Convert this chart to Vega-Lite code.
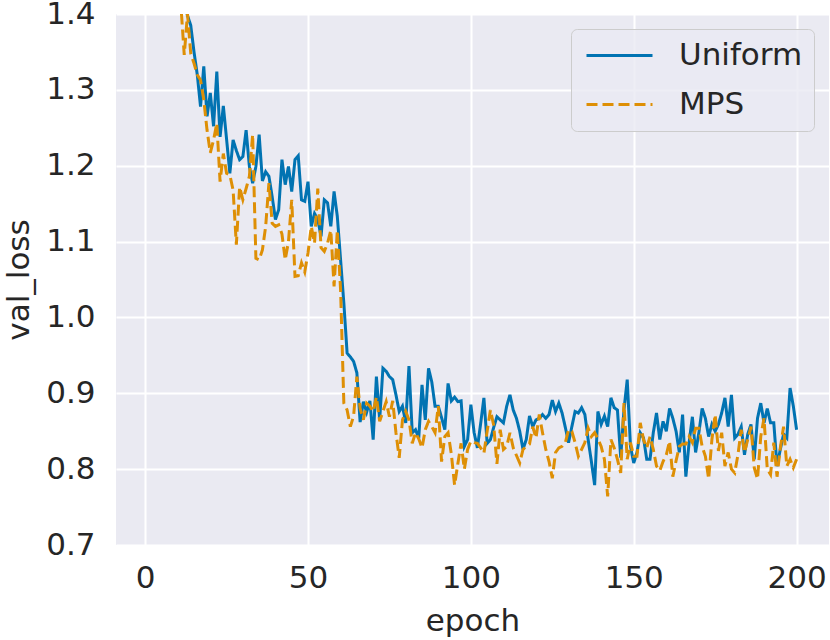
{
  "$schema": "https://vega.github.io/schema/vega-lite/v6.json",
  "width": 713,
  "height": 531,
  "autosize": {"type": "none"},
  "padding": {"left": 116, "top": 14, "right": 1, "bottom": 95},
  "background": "white",
  "config": {
    "font": "DejaVu Sans",
    "view": {"fill": "#EAEAF2", "stroke": null},
    "axis": {
      "domain": false,
      "ticks": false,
      "grid": true,
      "gridColor": "white",
      "gridWidth": 2,
      "labelFont": "DejaVu Sans",
      "labelFontSize": 31,
      "labelColor": "#262626",
      "titleFont": "DejaVu Sans",
      "titleFontSize": 31,
      "titleFontWeight": "normal",
      "titleColor": "#262626"
    },
    "legend": {
      "orient": "top-right",
      "offset": 15,
      "padding": 11,
      "fillColor": "rgba(234,234,242,0.8)",
      "strokeColor": "#cccccc",
      "cornerRadius": 6,
      "labelFont": "DejaVu Sans",
      "labelFontSize": 31,
      "labelColor": "#262626",
      "labelOffset": 66,
      "symbolType": "M-1,0H5",
      "symbolSize": 484,
      "symbolStrokeWidth": 3,
      "rowPadding": 17
    }
  },
  "data": {
    "values": [
      {"epoch": 1, "Uniform": 2.3, "MPS": 2.2},
      {"epoch": 2, "Uniform": 2.05, "MPS": 1.95},
      {"epoch": 3, "Uniform": 1.9, "MPS": 1.8},
      {"epoch": 4, "Uniform": 1.8, "MPS": 1.7},
      {"epoch": 5, "Uniform": 1.72, "MPS": 1.63},
      {"epoch": 6, "Uniform": 1.66, "MPS": 1.57},
      {"epoch": 7, "Uniform": 1.6, "MPS": 1.52},
      {"epoch": 8, "Uniform": 1.55, "MPS": 1.48},
      {"epoch": 9, "Uniform": 1.51, "MPS": 1.45},
      {"epoch": 10, "Uniform": 1.47, "MPS": 1.43},
      {"epoch": 11, "Uniform": 1.44, "MPS": 1.41},
      {"epoch": 12, "Uniform": 1.415, "MPS": 1.346},
      {"epoch": 13, "Uniform": 1.398, "MPS": 1.4},
      {"epoch": 14, "Uniform": 1.385, "MPS": 1.348},
      {"epoch": 15, "Uniform": 1.35, "MPS": 1.335},
      {"epoch": 16, "Uniform": 1.32, "MPS": 1.32},
      {"epoch": 17, "Uniform": 1.278, "MPS": 1.313},
      {"epoch": 18, "Uniform": 1.331, "MPS": 1.287},
      {"epoch": 19, "Uniform": 1.265, "MPS": 1.247},
      {"epoch": 20, "Uniform": 1.296, "MPS": 1.217},
      {"epoch": 21, "Uniform": 1.252, "MPS": 1.234},
      {"epoch": 22, "Uniform": 1.324, "MPS": 1.256},
      {"epoch": 23, "Uniform": 1.238, "MPS": 1.179},
      {"epoch": 24, "Uniform": 1.279, "MPS": 1.216},
      {"epoch": 25, "Uniform": 1.235, "MPS": 1.19},
      {"epoch": 26, "Uniform": 1.19, "MPS": 1.188},
      {"epoch": 27, "Uniform": 1.234, "MPS": 1.168},
      {"epoch": 28, "Uniform": 1.22, "MPS": 1.096},
      {"epoch": 29, "Uniform": 1.208, "MPS": 1.172},
      {"epoch": 30, "Uniform": 1.212, "MPS": 1.155},
      {"epoch": 31, "Uniform": 1.247, "MPS": 1.17},
      {"epoch": 32, "Uniform": 1.199, "MPS": 1.186},
      {"epoch": 33, "Uniform": 1.177, "MPS": 1.241},
      {"epoch": 34, "Uniform": 1.199, "MPS": 1.078},
      {"epoch": 35, "Uniform": 1.241, "MPS": 1.076},
      {"epoch": 36, "Uniform": 1.18, "MPS": 1.089},
      {"epoch": 37, "Uniform": 1.192, "MPS": 1.12},
      {"epoch": 38, "Uniform": 1.186, "MPS": 1.177},
      {"epoch": 39, "Uniform": 1.159, "MPS": 1.124},
      {"epoch": 40, "Uniform": 1.129, "MPS": 1.12},
      {"epoch": 41, "Uniform": 1.142, "MPS": 1.122},
      {"epoch": 42, "Uniform": 1.208, "MPS": 1.11},
      {"epoch": 43, "Uniform": 1.175, "MPS": 1.076},
      {"epoch": 44, "Uniform": 1.199, "MPS": 1.1},
      {"epoch": 45, "Uniform": 1.166, "MPS": 1.155},
      {"epoch": 46, "Uniform": 1.208, "MPS": 1.054},
      {"epoch": 47, "Uniform": 1.213, "MPS": 1.055},
      {"epoch": 48, "Uniform": 1.155, "MPS": 1.072},
      {"epoch": 49, "Uniform": 1.153, "MPS": 1.06},
      {"epoch": 50, "Uniform": 1.179, "MPS": 1.085},
      {"epoch": 51, "Uniform": 1.12, "MPS": 1.12},
      {"epoch": 52, "Uniform": 1.137, "MPS": 1.098},
      {"epoch": 53, "Uniform": 1.129, "MPS": 1.17},
      {"epoch": 54, "Uniform": 1.107, "MPS": 1.092},
      {"epoch": 55, "Uniform": 1.155, "MPS": 1.087},
      {"epoch": 56, "Uniform": 1.151, "MPS": 1.098},
      {"epoch": 57, "Uniform": 1.12, "MPS": 1.115},
      {"epoch": 58, "Uniform": 1.166, "MPS": 1.041},
      {"epoch": 59, "Uniform": 1.133, "MPS": 1.115},
      {"epoch": 60, "Uniform": 1.076, "MPS": 1.036},
      {"epoch": 61, "Uniform": 1.019, "MPS": 0.887},
      {"epoch": 62, "Uniform": 0.953, "MPS": 0.878},
      {"epoch": 63, "Uniform": 0.948, "MPS": 0.856},
      {"epoch": 64, "Uniform": 0.942, "MPS": 0.87},
      {"epoch": 65, "Uniform": 0.927, "MPS": 0.922},
      {"epoch": 66, "Uniform": 0.862, "MPS": 0.88},
      {"epoch": 67, "Uniform": 0.889, "MPS": 0.865},
      {"epoch": 68, "Uniform": 0.875, "MPS": 0.887},
      {"epoch": 69, "Uniform": 0.89, "MPS": 0.883},
      {"epoch": 70, "Uniform": 0.839, "MPS": 0.876},
      {"epoch": 71, "Uniform": 0.922, "MPS": 0.895},
      {"epoch": 72, "Uniform": 0.865, "MPS": 0.863},
      {"epoch": 73, "Uniform": 0.933, "MPS": 0.876},
      {"epoch": 74, "Uniform": 0.929, "MPS": 0.889},
      {"epoch": 75, "Uniform": 0.922, "MPS": 0.869},
      {"epoch": 76, "Uniform": 0.918, "MPS": 0.89},
      {"epoch": 77, "Uniform": 0.898, "MPS": 0.848},
      {"epoch": 78, "Uniform": 0.876, "MPS": 0.815},
      {"epoch": 79, "Uniform": 0.883, "MPS": 0.865},
      {"epoch": 80, "Uniform": 0.861, "MPS": 0.876},
      {"epoch": 81, "Uniform": 0.936, "MPS": 0.865},
      {"epoch": 82, "Uniform": 0.848, "MPS": 0.834},
      {"epoch": 83, "Uniform": 0.852, "MPS": 0.848},
      {"epoch": 84, "Uniform": 0.841, "MPS": 0.84},
      {"epoch": 85, "Uniform": 0.911, "MPS": 0.828},
      {"epoch": 86, "Uniform": 0.865, "MPS": 0.852},
      {"epoch": 87, "Uniform": 0.933, "MPS": 0.863},
      {"epoch": 88, "Uniform": 0.915, "MPS": 0.856},
      {"epoch": 89, "Uniform": 0.883, "MPS": 0.848},
      {"epoch": 90, "Uniform": 0.883, "MPS": 0.883},
      {"epoch": 91, "Uniform": 0.868, "MPS": 0.81},
      {"epoch": 92, "Uniform": 0.852, "MPS": 0.843},
      {"epoch": 93, "Uniform": 0.913, "MPS": 0.848},
      {"epoch": 94, "Uniform": 0.89, "MPS": 0.82},
      {"epoch": 95, "Uniform": 0.895, "MPS": 0.779},
      {"epoch": 96, "Uniform": 0.889, "MPS": 0.807},
      {"epoch": 97, "Uniform": 0.89, "MPS": 0.834},
      {"epoch": 98, "Uniform": 0.83, "MPS": 0.8},
      {"epoch": 99, "Uniform": 0.839, "MPS": 0.826},
      {"epoch": 100, "Uniform": 0.885, "MPS": 0.837},
      {"epoch": 101, "Uniform": 0.848, "MPS": 0.835},
      {"epoch": 102, "Uniform": 0.828, "MPS": 0.834},
      {"epoch": 103, "Uniform": 0.86, "MPS": 0.828},
      {"epoch": 104, "Uniform": 0.894, "MPS": 0.821},
      {"epoch": 105, "Uniform": 0.834, "MPS": 0.85},
      {"epoch": 106, "Uniform": 0.839, "MPS": 0.878},
      {"epoch": 107, "Uniform": 0.855, "MPS": 0.858},
      {"epoch": 108, "Uniform": 0.869, "MPS": 0.807},
      {"epoch": 109, "Uniform": 0.865, "MPS": 0.852},
      {"epoch": 110, "Uniform": 0.861, "MPS": 0.826},
      {"epoch": 111, "Uniform": 0.883, "MPS": 0.83},
      {"epoch": 112, "Uniform": 0.898, "MPS": 0.848},
      {"epoch": 113, "Uniform": 0.878, "MPS": 0.828},
      {"epoch": 114, "Uniform": 0.867, "MPS": 0.818},
      {"epoch": 115, "Uniform": 0.85, "MPS": 0.808},
      {"epoch": 116, "Uniform": 0.826, "MPS": 0.826},
      {"epoch": 117, "Uniform": 0.839, "MPS": 0.83},
      {"epoch": 118, "Uniform": 0.87, "MPS": 0.833},
      {"epoch": 119, "Uniform": 0.856, "MPS": 0.856},
      {"epoch": 120, "Uniform": 0.865, "MPS": 0.841},
      {"epoch": 121, "Uniform": 0.867, "MPS": 0.872},
      {"epoch": 122, "Uniform": 0.872, "MPS": 0.848},
      {"epoch": 123, "Uniform": 0.867, "MPS": 0.826},
      {"epoch": 124, "Uniform": 0.872, "MPS": 0.81},
      {"epoch": 125, "Uniform": 0.891, "MPS": 0.788},
      {"epoch": 126, "Uniform": 0.876, "MPS": 0.822},
      {"epoch": 127, "Uniform": 0.887, "MPS": 0.828},
      {"epoch": 128, "Uniform": 0.874, "MPS": 0.83},
      {"epoch": 129, "Uniform": 0.855, "MPS": 0.835},
      {"epoch": 130, "Uniform": 0.835, "MPS": 0.852},
      {"epoch": 131, "Uniform": 0.856, "MPS": 0.85},
      {"epoch": 132, "Uniform": 0.876, "MPS": 0.835},
      {"epoch": 133, "Uniform": 0.874, "MPS": 0.817},
      {"epoch": 134, "Uniform": 0.881, "MPS": 0.826},
      {"epoch": 135, "Uniform": 0.872, "MPS": 0.835},
      {"epoch": 136, "Uniform": 0.839, "MPS": 0.854},
      {"epoch": 137, "Uniform": 0.81, "MPS": 0.843},
      {"epoch": 138, "Uniform": 0.779, "MPS": 0.848},
      {"epoch": 139, "Uniform": 0.876, "MPS": 0.84},
      {"epoch": 140, "Uniform": 0.859, "MPS": 0.83},
      {"epoch": 141, "Uniform": 0.87, "MPS": 0.813},
      {"epoch": 142, "Uniform": 0.856, "MPS": 0.764},
      {"epoch": 143, "Uniform": 0.894, "MPS": 0.839},
      {"epoch": 144, "Uniform": 0.881, "MPS": 0.828},
      {"epoch": 145, "Uniform": 0.878, "MPS": 0.813},
      {"epoch": 146, "Uniform": 0.815, "MPS": 0.795},
      {"epoch": 147, "Uniform": 0.878, "MPS": 0.887},
      {"epoch": 148, "Uniform": 0.918, "MPS": 0.813},
      {"epoch": 149, "Uniform": 0.83, "MPS": 0.835},
      {"epoch": 150, "Uniform": 0.808, "MPS": 0.817},
      {"epoch": 151, "Uniform": 0.822, "MPS": 0.817},
      {"epoch": 152, "Uniform": 0.848, "MPS": 0.861},
      {"epoch": 153, "Uniform": 0.841, "MPS": 0.839},
      {"epoch": 154, "Uniform": 0.813, "MPS": 0.828},
      {"epoch": 155, "Uniform": 0.813, "MPS": 0.843},
      {"epoch": 156, "Uniform": 0.848, "MPS": 0.826},
      {"epoch": 157, "Uniform": 0.874, "MPS": 0.804},
      {"epoch": 158, "Uniform": 0.839, "MPS": 0.798},
      {"epoch": 159, "Uniform": 0.863, "MPS": 0.81},
      {"epoch": 160, "Uniform": 0.85, "MPS": 0.819},
      {"epoch": 161, "Uniform": 0.88, "MPS": 0.837},
      {"epoch": 162, "Uniform": 0.867, "MPS": 0.79},
      {"epoch": 163, "Uniform": 0.85, "MPS": 0.811},
      {"epoch": 164, "Uniform": 0.822, "MPS": 0.83},
      {"epoch": 165, "Uniform": 0.872, "MPS": 0.833},
      {"epoch": 166, "Uniform": 0.79, "MPS": 0.833},
      {"epoch": 167, "Uniform": 0.835, "MPS": 0.843},
      {"epoch": 168, "Uniform": 0.869, "MPS": 0.835},
      {"epoch": 169, "Uniform": 0.822, "MPS": 0.854},
      {"epoch": 170, "Uniform": 0.848, "MPS": 0.854},
      {"epoch": 171, "Uniform": 0.88, "MPS": 0.83},
      {"epoch": 172, "Uniform": 0.867, "MPS": 0.817},
      {"epoch": 173, "Uniform": 0.843, "MPS": 0.787},
      {"epoch": 174, "Uniform": 0.859, "MPS": 0.839},
      {"epoch": 175, "Uniform": 0.85, "MPS": 0.872},
      {"epoch": 176, "Uniform": 0.859, "MPS": 0.824},
      {"epoch": 177, "Uniform": 0.874, "MPS": 0.848},
      {"epoch": 178, "Uniform": 0.894, "MPS": 0.804},
      {"epoch": 179, "Uniform": 0.856, "MPS": 0.822},
      {"epoch": 180, "Uniform": 0.898, "MPS": 0.8},
      {"epoch": 181, "Uniform": 0.841, "MPS": 0.795},
      {"epoch": 182, "Uniform": 0.846, "MPS": 0.819},
      {"epoch": 183, "Uniform": 0.856, "MPS": 0.852},
      {"epoch": 184, "Uniform": 0.819, "MPS": 0.822},
      {"epoch": 185, "Uniform": 0.846, "MPS": 0.839},
      {"epoch": 186, "Uniform": 0.859, "MPS": 0.856},
      {"epoch": 187, "Uniform": 0.813, "MPS": 0.802},
      {"epoch": 188, "Uniform": 0.867, "MPS": 0.787},
      {"epoch": 189, "Uniform": 0.887, "MPS": 0.843},
      {"epoch": 190, "Uniform": 0.861, "MPS": 0.867},
      {"epoch": 191, "Uniform": 0.88, "MPS": 0.8},
      {"epoch": 192, "Uniform": 0.861, "MPS": 0.793},
      {"epoch": 193, "Uniform": 0.861, "MPS": 0.835},
      {"epoch": 194, "Uniform": 0.804, "MPS": 0.79},
      {"epoch": 195, "Uniform": 0.826, "MPS": 0.828},
      {"epoch": 196, "Uniform": 0.846, "MPS": 0.856},
      {"epoch": 197, "Uniform": 0.841, "MPS": 0.804},
      {"epoch": 198, "Uniform": 0.907, "MPS": 0.813},
      {"epoch": 199, "Uniform": 0.883, "MPS": 0.802},
      {"epoch": 200, "Uniform": 0.852, "MPS": 0.813}
    ]
  },
  "transform": [
    {"fold": ["Uniform", "MPS"], "as": ["run", "val_loss"]}
  ],
  "mark": {"type": "line", "strokeWidth": 3, "clip": true},
  "encoding": {
    "x": {
      "field": "epoch",
      "type": "quantitative",
      "scale": {"domain": [-8.95, 209.95], "nice": false, "zero": false},
      "axis": {"title": "epoch", "values": [0, 50, 100, 150, 200], "format": "d", "labelPadding": 18, "titlePadding": 13}
    },
    "y": {
      "field": "val_loss",
      "type": "quantitative",
      "scale": {"domain": [0.7, 1.4], "nice": false, "zero": false},
      "axis": {"title": "val_loss", "values": [0.7, 0.8, 0.9, 1.0, 1.1, 1.2, 1.3, 1.4], "format": ".1f", "labelPadding": 21, "titlePadding": 10}
    },
    "color": {
      "field": "run",
      "type": "nominal",
      "title": null,
      "scale": {"domain": ["Uniform", "MPS"], "range": ["#0173B2", "#DE8F05"]}
    },
    "strokeDash": {
      "field": "run",
      "type": "nominal",
      "title": null,
      "scale": {"domain": ["Uniform", "MPS"], "range": [[1, 0], [11, 5]]}
    }
  }
}
